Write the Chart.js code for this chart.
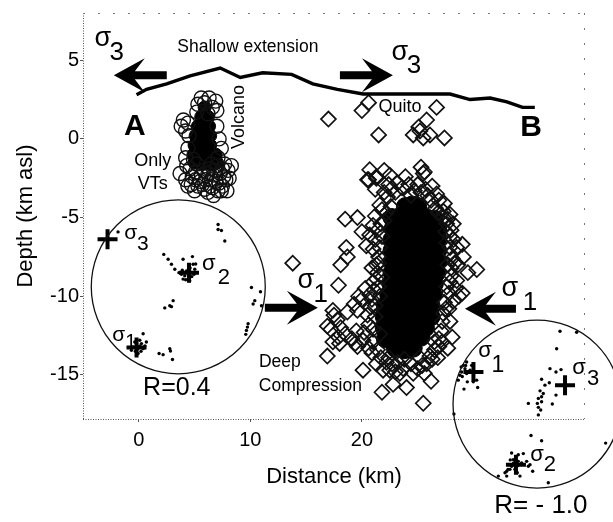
<!DOCTYPE html>
<html>
<head>
<meta charset="utf-8">
<style>
  html, body { margin: 0; padding: 0; background: #fff; }
  canvas { display: block; filter: blur(0.4px); }
</style>
<script src="https://cdn.jsdelivr.net/npm/chart.js@4"></script>
</head>
<body>
<canvas id="chart" width="613" height="522"></canvas>
<script>
const xTicks = [0, 10, 20];
const yTicks = [5, 0, -5, -10, -15];

// Topography, distance km / elevation km
const topoLine = [[-0.2, 2.8], [0.7, 3.15], [2.5, 3.5], [4.6, 4.0], [7.3, 4.5], [9.1, 3.9], [11.1, 4.2], [13.7, 4.1],
  [15.6, 3.5], [17.8, 3.15], [20.1, 2.85], [24.3, 2.85], [27.9, 2.85], [29.7, 2.5], [31.5, 2.6], [33.0, 2.35], [34.4, 2.0], [35.5, 2.0]];

// Volcano tectonic events (open circles)
const vtEvents = [[5.6, 2.6], [6.3, 2.6], [6.9, 2.4], [5.3, 2.2], [5.9, 2.3], [6.6, 2.0], [7.0, 1.8], [5.2, 1.7], [6.2, 1.6],
  [4.0, 1.2], [3.8, 0.8], [4.2, 0.5], [4.4, 1.0], [4.5, 0.2], [7.0, 0.8], [7.2, 0.0], [7.4, -0.6], [4.4, -0.6], [4.2, -1.2],
  [3.7, -2.2], [4.2, -2.6], [4.6, -1.9], [5.0, -3.3], [5.5, -2.7], [5.9, -3.2], [6.2, -2.2], [6.7, -3.6], [6.9, -2.7],
  [7.3, -2.2], [7.5, -3.0], [7.9, -3.3], [8.3, -1.7], [8.1, -2.5], [7.7, -1.6], [5.2, -1.6], [5.8, -2.0], [4.8, -2.4],
  [6.4, -3.0], [7.1, -3.3], [6.5, -1.6], [7.1, -1.2], [7.8, -2.6], [5.3, -3.0], [4.4, -3.0], [6.0, -2.6], [6.9, -2.0],
  [4.3, -1.7], [4.9, -1.3], [5.1, -2.1], [5.6, -2.3], [6.3, -1.9], [6.7, -2.3], [7.0, -1.7], [7.5, -1.9], [7.6, -2.4], [5.7, -2.9],
  [6.2, -3.4], [6.6, -3.1], [7.2, -2.8], [7.4, -3.3], [4.7, -2.9], [5.1, -2.6], [6.5, -2.6], [8.0, -2.0]];
const vtCore = [[5.9, 2.0], [5.6, 1.4], [6.2, 1.4], [5.3, 0.8], [5.8, 0.8], [6.3, 0.8], [5.1, 0.2], [5.7, 0.2], [6.4, 0.2],
  [5.0, -0.4], [5.6, -0.4], [6.4, -0.4], [4.9, -1.0], [5.6, -1.0], [6.4, -1.0], [6.9, -1.0], [5.0, -1.5], [5.7, -1.6], [6.5, -1.6], [7.0, -1.5]];

// Deep events under Quito (open diamonds)
const deepEvents = [[17.0, 1.26], [20.0, 1.8], [20.6, 2.3], [26.7, 2.0], [25.8, 1.2], [25.1, 0.76], [21.5, 0.25], [24.6, 0.25], [25.5, 0.06], [26.1, 0.25], [27.4, 0.06], [25.2, 0.5],
  [20.7, -1.96], [22.0, -2.0], [21.3, -2.4], [20.6, -2.6], [25.3, -1.8], [25.6, -2.1], [26.3, -3.0], [21.2, -3.2], [26.7, -3.5], [25.5, -2.2], [23.9, -2.4], [22.5, -2.3], [21.3, -2.5], [20.5, -2.6],
  [22.4, -2.9], [23.2, -2.8], [24.2, -2.9], [25.0, -2.9], [25.7, -3.2], [22.0, -3.4], [21.6, -4.2], [21.2, -4.9], [22.3, -3.7], [26.9, -3.9], [27.4, -4.1], [26.6, -4.4], [27.9, -4.8], [27.3, -5.0], [27.6, -5.4],
  [13.8, -7.9], [18.5, -5.1], [19.6, -5.0], [20.0, -5.9], [20.4, -6.8], [20.7, -6.1], [21.0, -5.5], [21.4, -5.8], [21.2, -6.4], [21.6, -6.9], [18.6, -6.9], [18.7, -7.5], [18.1, -8.0], [17.9, -9.3], [20.9, -8.2], [21.3, -8.0], [21.5, -7.5], [21.3, -8.9],
  [17.4, -10.9], [16.9, -11.9], [17.8, -11.5], [18.7, -11.0], [19.3, -10.5], [19.7, -10.0], [20.3, -9.5], [19.6, -10.9], [21.2, -10.6], [20.0, -10.2], [20.7, -9.9], [21.1, -9.6], [17.5, -11.2], [17.2, -12.1], [18.1, -12.0], [17.9, -12.6],
  [17.4, -12.9], [18.0, -13.0], [16.9, -13.8], [19.6, -13.2], [18.5, -12.4], [19.5, -12.2], [20.1, -12.8], [20.9, -13.6], [20.1, -14.7], [21.3, -14.3], [22.5, -14.7], [23.2, -14.2], [23.4, -14.9], [20.6, -11.8], [20.2, -12.3], [19.1, -12.7], [21.0, -12.9], [19.4, -13.0], [20.6, -13.3],
  [21.8, -16.1], [22.8, -15.6], [24.0, -15.8], [25.5, -16.8], [26.2, -15.4], [25.8, -14.3], [26.8, -13.9], [27.7, -13.3], [28.1, -12.6], [27.9, -11.6], [27.3, -11.1], [25.0, -14.6], [25.6, -14.9], [24.4, -14.3], [21.7, -13.9], [22.2, -14.2], [23.7, -14.6], [26.3, -14.0], [26.5, -13.4], [27.2, -12.9], [27.1, -12.2], [27.5, -10.8],
  [29.0, -9.8], [28.5, -9.0], [29.5, -8.5], [30.3, -8.3], [29.1, -7.5], [29.0, -6.7], [27.9, -6.2], [28.4, -9.5], [28.0, -8.7], [28.3, -7.9], [27.9, -7.3], [28.5, -6.9], [28.2, -6.4], [28.0, -8.2], [28.7, -10.0], [28.2, -10.3], [27.8, -9.8], [27.4, -10.4], [28.0, -5.8], [27.5, -5.9],
  [23.0, -3.4], [24.7, -3.3], [25.9, -3.6], [22.6, -4.3], [22.0, -5.2], [21.5, -7.9], [21.2, -11.3], [21.6, -12.4], [21.0, -12.1], [21.4, -13.4], [22.4, -13.9], [23.8, -14.0], [25.2, -13.9],
  [21.0, -7.0], [21.8, -6.2], [21.4, -8.5], [21.8, -8.8], [21.0, -9.1], [20.8, -10.7], [21.6, -10.0], [20.5, -11.2], [20.9, -10.2], [21.5, -9.4], [21.7, -5.4], [22.2, -4.7], [21.8, -4.5], [22.6, -3.2], [23.6, -3.1], [24.4, -3.6], [25.3, -3.4], [26.2, -3.9],
  [27.6, -6.6], [27.9, -6.9], [28.1, -7.6], [27.7, -8.0], [27.9, -9.1], [28.6, -8.0], [27.6, -9.4], [27.3, -4.6], [26.8, -4.7], [27.7, -5.1], [28.2, -5.4], [27.8, -10.8], [27.2, -11.6], [26.9, -12.7], [26.5, -12.9], [26.9, -13.2], [26.1, -13.8], [25.4, -14.4], [24.6, -14.9], [23.0, -14.8], [22.7, -14.3], [21.9, -14.7]];
// Solid part of the cloud, too many overlapping events to tell apart
const deepCore = [[23.9, -4.3], [24.5, -4.2], [25.0, -4.3], [22.7, -5.0], [23.3, -5.0], [24.1, -5.0], [24.9, -5.0], [25.7, -5.0], [26.5, -5.1],
  [22.8, -5.7], [23.6, -5.7], [24.4, -5.7], [25.2, -5.7], [26.0, -5.7], [26.8, -5.8], [22.7, -6.4], [23.6, -6.4], [24.4, -6.4], [25.2, -6.4], [26.0, -6.4], [26.8, -6.4],
  [22.7, -7.1], [23.6, -7.1], [24.4, -7.1], [25.2, -7.1], [26.0, -7.1], [26.8, -7.1], [22.7, -7.8], [23.5, -7.8], [24.3, -7.8], [25.1, -7.8], [25.9, -7.8], [26.8, -7.8],
  [22.7, -8.5], [23.5, -8.5], [24.3, -8.5], [25.1, -8.5], [25.9, -8.5], [26.7, -8.5], [22.6, -9.2], [23.5, -9.2], [24.3, -9.2], [25.1, -9.2], [25.9, -9.2], [26.5, -9.2],
  [22.4, -9.9], [23.3, -9.9], [24.1, -9.9], [24.9, -9.9], [25.7, -9.9], [26.4, -9.9], [22.1, -10.6], [23.0, -10.6], [23.8, -10.6], [24.6, -10.6], [25.4, -10.6], [26.2, -10.6],
  [22.0, -11.3], [22.9, -11.3], [23.7, -11.3], [24.5, -11.3], [25.3, -11.3], [26.2, -11.3], [22.0, -12.0], [22.9, -12.0], [23.7, -12.0], [24.5, -12.0], [25.3, -12.0], [25.7, -12.0],
  [22.1, -12.7], [23.0, -12.7], [23.8, -12.7], [24.6, -12.7], [25.3, -12.6], [23.0, -13.3], [23.8, -13.4], [24.6, -13.3]];

// Stress inversion nets, centre in km and outline radius in px
const netCentres = [[3.54, -9.4], [35.7, -16.85]];
const principalStress = [[-2.8, -6.37], [4.5, -8.5], [-0.2, -13.25], [30.0, -14.81], [38.21, -15.65], [33.81, -20.7]];
const netDotsLeft = [[-1.86, -5.91], [7.11, -5.44], [7.11, -5.76], [7.41, -5.82], [7.71, -6.49], [2.24, -7.34], [2.63, -7.65], [2.93, -7.97], [3.23, -8.28], [3.97, -7.65], [4.81, -7.48], [4.87, -7.97],
  [3.82, -8.6], [4.12, -8.7], [4.42, -8.91], [4.72, -8.49], [5.02, -8.28], [4.27, -8.39], [3.97, -8.91], [4.57, -9.02], [3.6, -8.5], [3.9, -8.35], [4.2, -8.95], [4.75, -8.75], [4.95, -8.6], [4.6, -8.2], [5.1, -7.95],
  [3.08, -10.28], [2.78, -10.6], [2.33, -10.74], [2.93, -10.66],
  [10.1, -9.44], [10.91, -9.71], [10.4, -10.28], [10.25, -10.49], [11.0, -10.6], [9.8, -11.75], [9.65, -12.17], [9.59, -12.42], [9.74, -11.96],
  [0.39, -12.38], [0.09, -12.8], [0.68, -12.91], [-0.36, -12.91], [-0.66, -13.43], [0.39, -13.33], [-0.06, -13.64], [-0.51, -13.22], [0.24, -13.01], [-0.2, -13.0], [0.1, -13.15], [-0.3, -13.5], [0.2, -13.5], [0.55, -13.15], [-0.1, -13.35],
  [1.82, -13.64], [2.18, -13.71], [2.78, -13.33], [2.84, -13.48], [3.02, -14.02]];
const netDotsRight = [[37.46, -13.34], [36.86, -14.6], [37.4, -14.81], [37.85, -14.66], [36.11, -15.27], [36.8, -15.5], [36.41, -15.65], [35.97, -16.01], [36.26, -16.18], [37.4, -16.28], [36.11, -16.39], [35.82, -16.49],
  [34.92, -16.81], [35.73, -16.81], [36.11, -16.7], [37.07, -16.85], [35.82, -17.06], [36.03, -17.23], [35.82, -17.54], [35.16, -18.85], [36.11, -19.18], [41.85, -19.33], [28.25, -17.48], [39.25, -12.29], [37.76, -12.22],
  [29.09, -14.39], [29.39, -14.18], [28.94, -14.81], [28.64, -15.33], [28.79, -15.02], [29.39, -14.91], [29.84, -14.39], [29.45, -15.44], [29.99, -15.44], [30.29, -15.33], [30.38, -15.8], [29.15, -15.9], [29.24, -14.6], [29.69, -14.7], [29.0, -15.1], [29.3, -14.4], [28.9, -14.5],
  [33.42, -19.96], [34.47, -20.0], [34.02, -20.07], [33.57, -20.38], [33.13, -20.7], [33.42, -20.8], [34.02, -20.49], [34.32, -20.59], [34.77, -20.49], [35.07, -20.7], [35.31, -21.12], [34.92, -20.8],
  [33.72, -21.0], [32.98, -21.12], [33.27, -21.0], [32.98, -21.43], [32.23, -21.43], [34.17, -21.43], [36.71, -21.85], [32.83, -21.22], [33.93, -21.22], [33.6, -20.6], [33.9, -20.8], [33.3, -20.4], [33.1, -21.0]];

// Annotations, text / km x / km y / font size / weight
const notes = [
  ['Shallow extension', 9.78, 5.8, 17.5], ['A', -0.36, 0.76, 30, 'bold'], ['B', 35.16, 0.69, 30, 'bold'],
  ['Only', 1.26, -1.39, 18], ['VTs', 1.26, -2.9, 18], ['Quito', 23.41, 2.02, 18],
  ['Deep', 12.65, -14.2, 17.5], ['Compression', 15.38, -15.71, 17.5], ['R=0.4', 3.41, -15.84, 25], ['R= - 1.0', 36.05, -23.34, 26],
  ['σ', -3.23, 6.37, 27], ['3', -1.97, 5.49, 26], ['σ', 23.41, 5.49, 27], ['3', 24.66, 4.67, 26],
  ['σ', 14.98, -9.02, 27], ['1', 16.32, -9.91, 26], ['σ', 33.27, -9.53, 27], ['1', 35.07, -10.41, 26],
  ['σ', -0.72, -5.99, 21], ['3', 0.36, -6.69, 21], ['σ', 6.28, -7.95, 22], ['2', 7.62, -8.83, 22], ['σ', -1.79, -12.49, 21], ['1', -0.72, -12.93, 20],
  ['σ', 31.03, -13.5, 22], ['1', 32.2, -14.38, 23], ['σ', 39.46, -14.57, 22], ['3', 40.72, -15.27, 22], ['σ', 35.7, -20.06, 22], ['2', 36.86, -20.69, 22]
];
const volcanoNote = ['Volcano', 8.97, 1.39, 18];
// Arrows, tail km x / tip km x / km y
const arrows = [[2.51, -2.24, 4.04], [18.03, 22.78, 4.04], [11.3, 16.05, -10.73], [33.81, 29.24, -10.79]];

const toPoints = list => list.map(p => ({ x: p[0], y: p[1] }));

function dottedLine(ctx, x0, y0, x1, y1, dash, color) {
  ctx.setLineDash(dash);
  ctx.strokeStyle = color;
  ctx.beginPath();
  ctx.moveTo(x0, y0);
  ctx.lineTo(x1, y1);
  ctx.stroke();
}

const annotations = {
  id: 'annotations',
  // the right net hangs past the axes, let its marks draw there too
  beforeDatasetsDraw(chart) {
    this.area = chart.chartArea;
    chart.chartArea = { left: 0, top: 0, right: chart.width, bottom: chart.height, width: chart.width, height: chart.height };
  },
  afterDatasetsDraw(chart) {
    chart.chartArea = this.area;
  },
  afterDraw(chart) {
    const { ctx, chartArea: { left, right, top, bottom }, scales: { x, y } } = chart;
    ctx.save();

    // Frame is only a scanned dotted line
    ctx.lineWidth = 1;
    dottedLine(ctx, left + 0.5, top, left + 0.5, bottom, [1, 1.5], '#555');
    dottedLine(ctx, left, bottom + 0.5, right, bottom + 0.5, [1, 1.5], '#555');
    dottedLine(ctx, left, top + 0.5, right, top + 0.5, [2, 13], '#777');
    dottedLine(ctx, right - 0.5, top, right - 0.5, bottom, [2, 13], '#777');
    ctx.setLineDash([]);

    ctx.fillStyle = '#000';
    ctx.textAlign = 'center';
    ctx.textBaseline = 'middle';
    notes.forEach(([text, nx, ny, size, weight]) => {
      ctx.font = `${weight || 'normal'} ${size}px "Liberation Sans"`;
      ctx.fillText(text, x.getPixelForValue(nx), y.getPixelForValue(ny));
    });

    ctx.save();
    ctx.translate(x.getPixelForValue(volcanoNote[1]), y.getPixelForValue(volcanoNote[2]));
    ctx.rotate(-Math.PI / 2);
    ctx.font = `${volcanoNote[3]}px "Liberation Sans"`;
    ctx.fillText(volcanoNote[0], 0, 0);
    ctx.restore();

    arrows.forEach(([tail, tip, ay]) => {
      const x0 = x.getPixelForValue(tail);
      const x1 = x.getPixelForValue(tip);
      const py = y.getPixelForValue(ay);
      const dir = x1 > x0 ? 1 : -1;
      ctx.beginPath();
      ctx.moveTo(x0, py - 4);
      ctx.lineTo(x1 - dir * 21, py - 4);
      ctx.lineTo(x1 - dir * 31, py - 17);
      ctx.lineTo(x1, py);
      ctx.lineTo(x1 - dir * 31, py + 17);
      ctx.lineTo(x1 - dir * 21, py + 4);
      ctx.lineTo(x0, py + 4);
      ctx.closePath();
      ctx.fill();
    });
    ctx.restore();
  }
};

const tickFont = { family: '"Liberation Sans"', size: 20 };
const titleFont = { family: '"Liberation Sans"', size: 22 };
const tickGrid = { drawOnChartArea: false, drawTicks: true, tickLength: 3, color: '#555' };

new Chart(document.getElementById('chart'), {
  type: 'scatter',
  data: {
    datasets: [
      { label: 'Topography', data: toPoints(topoLine), showLine: true, borderColor: '#000', borderWidth: 3.4, pointRadius: 0, clip: false },
      { label: 'VTs', data: toPoints(vtEvents), pointStyle: 'circle', pointRadius: 7, borderColor: '#111', borderWidth: 1.4, backgroundColor: 'transparent', clip: false },
      { label: 'VT core', data: toPoints(vtCore), pointStyle: 'circle', pointRadius: 6.5, borderColor: '#000', backgroundColor: '#000', clip: false },
      { label: 'Deep events', data: toPoints(deepEvents), pointStyle: 'rectRot', pointRadius: 7.5, borderColor: '#111', borderWidth: 1.7, backgroundColor: 'transparent', clip: false },
      { label: 'Deep core', data: toPoints(deepCore), pointStyle: 'circle', pointRadius: 9, borderColor: '#000', backgroundColor: '#000', clip: false },
      { label: 'Nets', data: [{ x: netCentres[0][0], y: netCentres[0][1] }], pointStyle: 'circle', pointRadius: 87, borderColor: '#111', borderWidth: 1.3, backgroundColor: 'transparent', clip: false },
      { label: 'Nets', data: [{ x: netCentres[1][0], y: netCentres[1][1] }], pointStyle: 'circle', pointRadius: 84, borderColor: '#111', borderWidth: 1.3, backgroundColor: 'transparent', clip: false },
      { label: 'Stress axes', data: toPoints(principalStress), pointStyle: 'cross', pointRadius: 10, borderColor: '#000', borderWidth: 4, clip: false },
      { label: 'Net dots left', data: toPoints(netDotsLeft), pointRadius: 1.7, borderWidth: 0, backgroundColor: '#000', clip: false },
      { label: 'Net dots right', data: toPoints(netDotsRight), pointRadius: 1.7, borderWidth: 0, backgroundColor: '#000', clip: false }
    ]
  },
  options: {
    responsive: false,
    animation: false,
    plugins: { legend: { display: false }, tooltip: { enabled: false } },
    layout: { padding: { top: 10, right: 28 }, autoPadding: false },
    scales: {
      x: {
        type: 'linear', position: 'bottom', min: -5, max: 40,
        afterBuildTicks: scale => { scale.ticks = xTicks.map(v => ({ value: v })); },
        afterFit: scale => { scale.height = 103; },
        grid: tickGrid, border: { display: false },
        ticks: { color: '#000', font: tickFont, padding: 6, maxRotation: 0 },
        title: { display: true, text: 'Distance (km)', color: '#000', font: titleFont, padding: { top: 0, bottom: 32 } }
      },
      y: {
        type: 'linear', position: 'left', min: -17.8, max: 8,
        afterBuildTicks: scale => { scale.ticks = yTicks.map(v => ({ value: v })); },
        afterFit: scale => { scale.width = 83; },
        grid: tickGrid, border: { display: false },
        ticks: { color: '#000', font: tickFont, padding: 1 },
        title: { display: true, text: 'Depth (km asl)', color: '#000', font: titleFont, padding: { top: 13, bottom: 0 } }
      }
    }
  },
  plugins: [annotations]
});
</script>
</body>
</html>
